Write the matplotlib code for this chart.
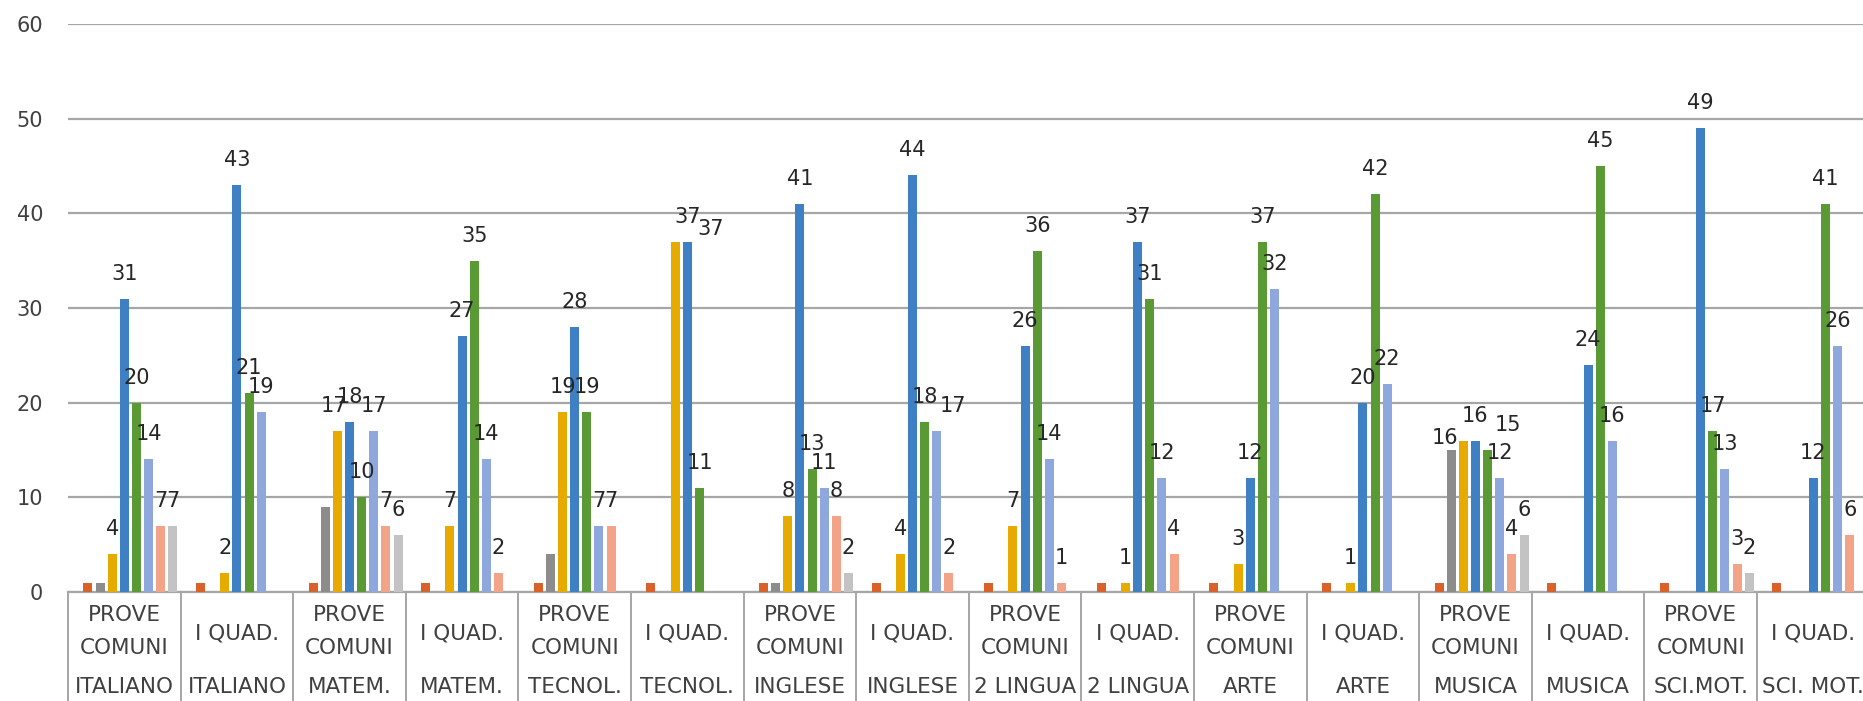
import matplotlib.pyplot as plt
import matplotlib.transforms as mtransforms
import numpy as np

# category labels (two rows under the axis)
top_labels = ["PROVE\nCOMUNI", "I QUAD."] * 8
subjects = ["ITALIANO", "ITALIANO", "MATEM.", "MATEM.", "TECNOL.", "TECNOL.",
            "INGLESE", "INGLESE", "2 LINGUA", "2 LINGUA", "ARTE", "ARTE",
            "MUSICA", "MUSICA", "SCI.MOT.", "SCI. MOT."]

# series values, one list per colour
s_orange = [1, 1, 1, 1, 1, 1, 1, 1, 1, 1, 1, 1, 1, 1, 1, 1]
s_gray = [1, 0, 9, 0, 4, 0, 1, 0, 0, 0, 0, 0, 15, 0, 0, 0]
s_gold = [4, 2, 17, 7, 19, 37, 8, 4, 7, 1, 3, 1, 16, 0, 0, 0]
s_blue = [31, 43, 18, 27, 28, 37, 41, 44, 26, 37, 12, 20, 16, 24, 49, 12]
s_green = [20, 21, 10, 35, 19, 11, 13, 18, 36, 31, 37, 42, 15, 45, 17, 41]
s_lblue = [14, 19, 17, 14, 7, 0, 11, 17, 14, 12, 32, 22, 12, 16, 13, 26]
s_salmon = [7, 0, 7, 2, 7, 0, 8, 2, 1, 4, 0, 0, 4, 0, 3, 6]
s_lgray = [7, 0, 6, 0, 0, 0, 2, 0, 0, 0, 0, 0, 6, 0, 2, 0]

series = [s_orange, s_gray, s_gold, s_blue, s_green, s_lblue, s_salmon, s_lgray]
colors = ['#D9622B', '#8C8C8C', '#E7AA00', '#3F7FC3', '#5A9A34', '#8EA7DC', '#F3A388', '#C3C3C3']
labelled = [False, False, True, True, True, True, True, True]

# label nudges in pixels (series index, group index) -> (dx, dy)
nudges = {(2, 2): (-3, 0), (2, 5): (12, 0), (3, 5): (23, -12), (5, 7): (16, 0),
          (2, 12): (-18, -22), (4, 12): (20, 0)}

W, H = 1863, 701
fig = plt.figure(figsize=(W / 100, H / 100), dpi=100)
left, bottom, top = 68, 592, 24
group_px = 112.6
ax = fig.add_axes([left / W, (H - bottom) / H, (W - left) / W, (bottom - top) / H])

x = np.arange(len(subjects))
slot = 12.14 / group_px
bw = 9 / group_px
px2pt = 0.72

for i, (vals, c) in enumerate(zip(series, colors)):
    pos = x + (i - 3) * slot
    ax.bar(pos, vals, width=bw, color=c, zorder=3)
    if not labelled[i]:
        continue
    for g, (p, v) in enumerate(zip(pos, vals)):
        if v <= 0:
            continue
        dx, dy = nudges.get((i, g), (0, 0))
        ax.annotate(str(v), (p, v), xytext=(dx * px2pt, (25 + dy) * px2pt),
                    textcoords='offset points', ha='center', va='center',
                    fontsize=15, color='#262626', zorder=5)

ax.set_xlim(-0.5, -0.5 + (W - left) / group_px)
ax.set_ylim(0, 60)
ax.set_yticks(np.arange(0, 61, 10))
ax.set_xticks([])
ax.tick_params(axis='y', length=0, pad=18, labelsize=15, labelcolor='#404040')
ax.yaxis.grid(True, color='#A6A6A6', lw=1.6)
ax.set_axisbelow(True)
for s in ['top', 'right', 'left']:
    ax.spines[s].set_visible(False)
ax.spines['bottom'].set_color('#A6A6A6')
ax.spines['bottom'].set_linewidth(1.6)

trans = mtransforms.blended_transform_factory(ax.transData, ax.transAxes)
ah = bottom - top
for b in np.arange(len(subjects) + 1) - 0.5:
    ax.plot([b, b], [0, -0.25], transform=trans, clip_on=False, color='#A6A6A6', lw=1.4)

fs = 15.5
for g, (t, s) in enumerate(zip(top_labels, subjects)):
    if '\n' in t:
        l1, l2 = t.split('\n')
        ax.text(g, -(615 - bottom) / ah, l1, transform=trans, ha='center', va='center',
                fontsize=fs, color='#404040')
        ax.text(g, -(648 - bottom) / ah, l2, transform=trans, ha='center', va='center',
                fontsize=fs, color='#404040')
    else:
        ax.text(g, -(633 - bottom) / ah, t, transform=trans, ha='center', va='center',
                fontsize=fs, color='#404040')
    ax.text(g, -(687 - bottom) / ah, s, transform=trans, ha='center', va='center',
            fontsize=fs, color='#404040')

fig.savefig('out.png', dpi=100)
